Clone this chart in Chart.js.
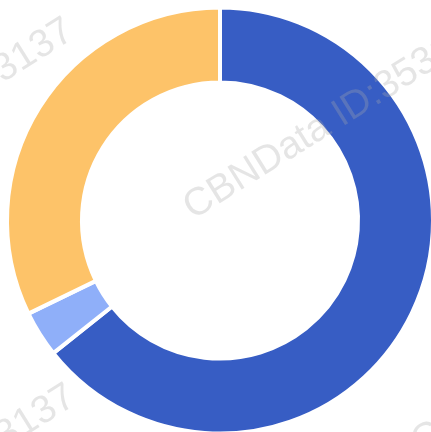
<!DOCTYPE html>
<html>
<head>
<meta charset="utf-8">
<script src="https://cdn.jsdelivr.net/npm/chart.js@4/dist/chart.umd.min.js"></script>
<style>
  html, body { margin: 0; padding: 0; background: #ffffff; overflow: hidden; }
  #wrap { width: 431px; height: 432px; position: relative; overflow: hidden; }
  #c { position: absolute; left: 0; top: 0; }
</style>
</head>
<body>
<div id="wrap"><canvas id="c" width="440" height="441"></canvas></div>
<script>
const categories = ["Segment A", "Segment B", "Segment C"];
const values = [64.3, 3.5, 32.2];
const colors = ["#375DC4", "#8FAFF9", "#FDC369"];
const watermarkText = "CBNData ID:353137";

const watermarkPlugin = {
  id: "watermark",
  afterDraw(chart) {
    const ctx = chart.ctx;
    const ang = -32 * Math.PI / 180;
    const spots = [
      { x: 193, y: 220, align: "left" },
      { x: 76, y: 37, align: "right" },
      { x: 78, y: 403, align: "right" },
      { x: 421, y: 455, align: "left" }
    ];
    ctx.save();
    ctx.font = "39px 'Liberation Sans', Arial, sans-serif";
    ctx.fillStyle = "rgba(170,170,170,0.3)";
    ctx.textBaseline = "alphabetic";
    spots.forEach(s => {
      ctx.save();
      ctx.translate(s.x, s.y);
      ctx.rotate(ang);
      ctx.textAlign = s.align;
      ctx.fillText(watermarkText, 0, 0);
      ctx.restore();
    });
    ctx.restore();
  }
};

new Chart(document.getElementById("c"), {
  type: "doughnut",
  data: {
    labels: categories,
    datasets: [{
      data: values,
      backgroundColor: colors,
      borderColor: "#ffffff",
      borderWidth: 4,
      hoverOffset: 0
    }]
  },
  options: {
    responsive: false,
    animation: false,
    cutout: "64.8%",
    layout: { padding: { left: 5, top: 5, right: 5, bottom: 5 } },
    plugins: {
      legend: { display: false },
      tooltip: { enabled: false }
    }
  },
  plugins: [watermarkPlugin]
});
</script>
</body>
</html>
